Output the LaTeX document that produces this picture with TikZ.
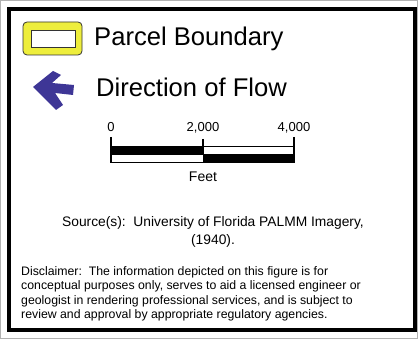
\documentclass[tikz,border=0pt]{standalone}
\usepackage{fontspec}
\setmainfont{Liberation Sans}
\definecolor{flowblue}{RGB}{62,54,150}
\definecolor{parcelyellow}{RGB}{238,238,60}
\tikzset{
  bigtext/.style={inner sep=0pt, font=\fontsize{25.6}{30}\selectfont},
  scaletext/.style={inner sep=0pt, anchor=base, font=\fontsize{13}{15}\selectfont},
  smalltext/.style={inner sep=0pt, font=\fontsize{12.3}{14.5}\selectfont}
}
\begin{document}
\begin{tikzpicture}[x=1pt,y=-1pt]
        \useasboundingbox (0,0) rectangle (418,339);
        \draw[gray!60, line width=0.6pt] (0.5,0.5) rectangle (417.5,338.5);
        \draw[line width=4pt] (9,9) rectangle (415,330);
        \draw[gray!40!black, fill=parcelyellow, rounded corners=4pt, line width=0.8pt] (23,22) rectangle (82,55);
        \draw[gray!40!black, fill=white, line width=0.8pt] (31,30) rectangle (75,47);
        \node[bigtext, anchor=base west] (parcel) at (94,46) {Parcel Boundary};
        \fill[flowblue] (33,87) -- (53,71) -- (61,75) -- (52,83) -- (74,85) -- (73,95) -- (55,93) -- (63,105) -- (56,110) -- cycle;
        \node[bigtext, anchor=base west] (flow) at (96,97) {Direction of Flow};
        \node[scaletext] (zero) at (111,132) {0};
        \node[scaletext] (mid) at (203,132) {2,000};
        \node[scaletext] (full) at (294,132) {4,000};
        \fill (111,147) rectangle (203,155);
        \fill (203,155) rectangle (294,163);
        \draw[line width=1pt] (111,147) rectangle (294,163);
        \draw[line width=1pt] (111,155) -- (294,155);
        \draw[line width=1.2pt] (111,137) -- (111,163);
        \draw[line width=1.2pt] (203,139) -- (203,155);
        \draw[line width=1.2pt] (294,137) -- (294,163);
        \node[scaletext, font=\fontsize{14}{16}\selectfont] (feet) at (203,182) {Feet};
        \node[smalltext, font=\fontsize{13.8}{18}\selectfont, align=center, anchor=north] (source) at (213,216) {Source(s):\ \ University of Florida PALMM Imagery,\\(1940).};
        \node[smalltext, align=left, anchor=north west] (disclaimer) at (21,266) {Disclaimer:\ \ The information depicted on this figure is for\\conceptual purposes only, serves to aid a licensed engineer or\\geologist in rendering professional services, and is subject to\\review and approval by appropriate regulatory agencies.};
\end{tikzpicture}
\end{document}
